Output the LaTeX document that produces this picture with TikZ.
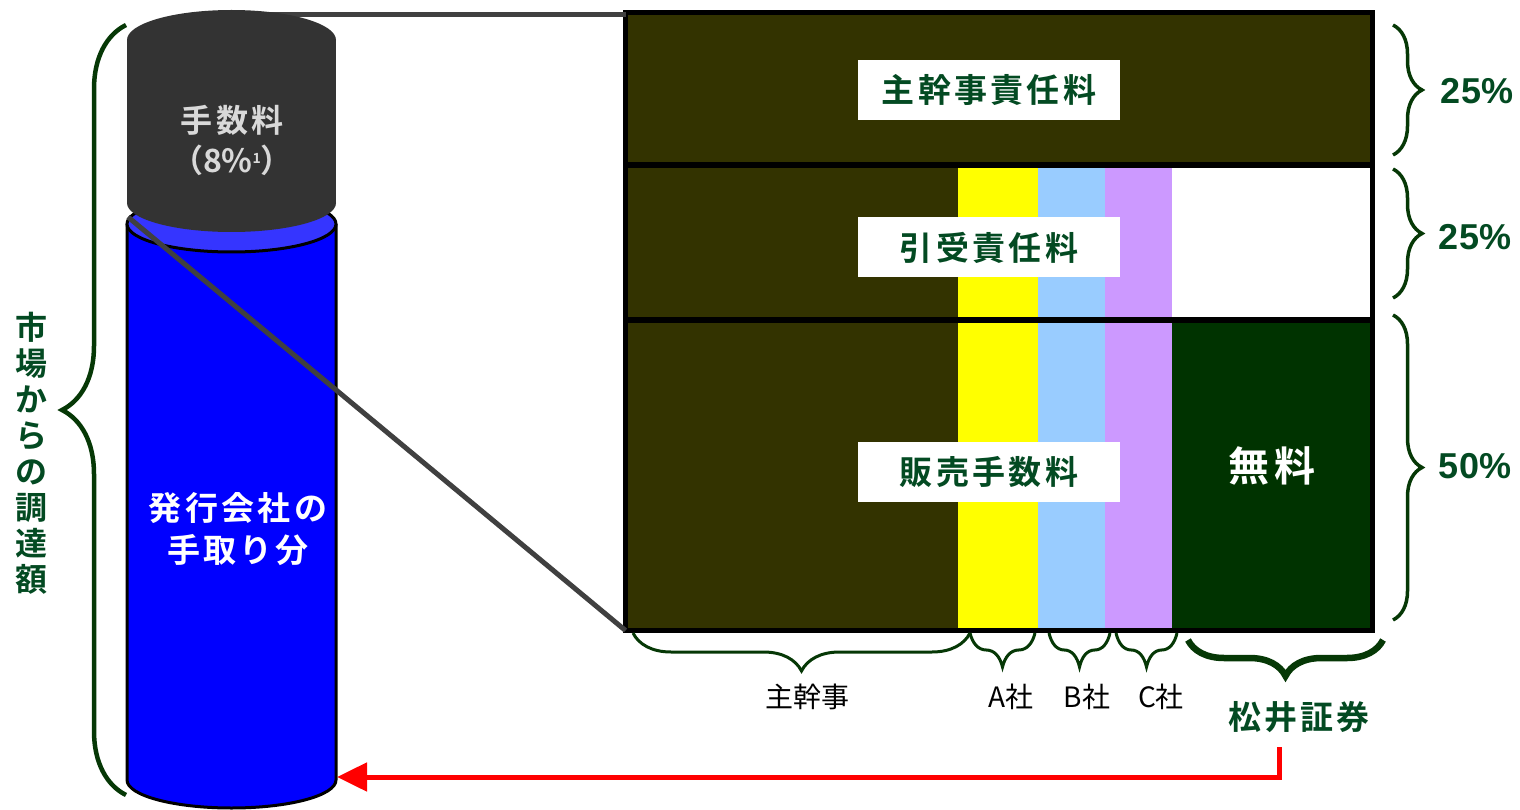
\documentclass[tikz,border=0pt]{standalone}
\usepackage{fontspec}
\usetikzlibrary{decorations.pathreplacing,arrows.meta}
\newfontfamily\jp{Noto Sans CJK JP}[BoldFont={Noto Sans CJK JP Bold}]
\newfontfamily\jpw{Noto Sans CJK JP}[BoldFont={Noto Sans CJK JP Bold},LetterSpace=10]
\newfontfamily\lat{Liberation Sans}
\definecolor{olive}{HTML}{333300}
\definecolor{yel}{HTML}{FFFF00}
\definecolor{lblue}{HTML}{99CCFF}
\definecolor{lav}{HTML}{CC99FF}
\definecolor{dgreen}{HTML}{003300}
\definecolor{brgreen}{HTML}{063806}
\definecolor{txtgreen}{HTML}{034A22}
\definecolor{capgray}{HTML}{333333}
\definecolor{captext}{HTML}{D9D9D9}
\definecolor{cylblue}{HTML}{0000FF}
\definecolor{topblue}{HTML}{3535FF}
\definecolor{conn}{HTML}{404040}
\definecolor{arrred}{HTML}{FF0000}
\tikzset{
  lbl/.style={fill=white, minimum width=262pt, minimum height=60pt, inner sep=0pt,
    text=txtgreen, font=\jpw\bfseries\fontsize{33}{33}\selectfont},
  pct/.style={text=txtgreen, inner sep=0pt, font=\lat\bfseries\fontsize{36}{36}\selectfont},
  co/.style={inner sep=0pt, font=\jp\fontsize{28}{28}\selectfont},
  brc/.style={draw=brgreen, line width=3.5pt, decorate,
    decoration={brace, amplitude=#1}},
  conline/.style={draw=conn, line width=5pt},
}
\begin{document}
\begin{tikzpicture}[x=1pt,y=-1pt]
\useasboundingbox (0,0) rectangle (1520,810);
% ---------- blue cylinder ----------
\fill[cylblue] (127,224) rectangle (336,780);
\fill[cylblue] (231.5,780) ellipse[x radius=104.5pt, y radius=28pt];
\draw[line width=3pt] (127,224) -- (127,780)
  arc[start angle=180, end angle=360, x radius=104.5pt, y radius=28pt] -- (336,224);
\filldraw[fill=topblue, line width=3pt] (231.5,224) ellipse[x radius=104.5pt, y radius=28pt];
\coordinate (capL) at (128,217);
\coordinate (capT) at (232,15);
\coordinate (cylR) at (337,777);
% ---------- panel ----------
\fill[olive] (625.5,12.5) rectangle (1372.5,165);
\fill[olive] (625.5,165) rectangle (958,630.5);
\fill[yel] (958,165) rectangle (1038,630.5);
\fill[lblue] (1038,165) rectangle (1105,630.5);
\fill[lav] (1105,165) rectangle (1172,630.5);
\fill[white] (1172,165) rectangle (1372.5,320);
\fill[dgreen] (1172,320) rectangle (1372.5,630.5);
\node[draw, line width=5pt, minimum width=747pt, minimum height=618pt, inner sep=0pt,
  outer sep=0pt, anchor=north west] (panel) at (625.5,12.5) {};
\draw[line width=5.5pt] (panel.west |- 0,165) -- (panel.east |- 0,165);
\draw[line width=5.5pt] (panel.west |- 0,320) -- (panel.east |- 0,320);
% ---------- connectors ----------
\draw[conline] (capL) -- (panel.south west);
\draw[conline] (capT) -- (capT -| panel.west);
% ---------- gray cap ----------
\fill[capgray] (127,40) rectangle (336,203);
\fill[capgray] (231.5,40) ellipse[x radius=104.5pt, y radius=30pt];
\fill[capgray] (231.5,203) ellipse[x radius=104.5pt, y radius=29pt];
\node[align=center, text=captext, inner sep=0pt, font=\jpw\bfseries\fontsize{32}{40}\selectfont]
  (fee) at (232,140) {手数料\\{\jp\bfseries （8\%{\fontsize{14}{14}\selectfont\raisebox{9pt}{1}}）}};
\node[align=center, text=white, inner sep=0pt, font=\jpw\bfseries\fontsize{33}{42}\selectfont]
  (net) at (238,529) {発行会社の\\手取り分};
% ---------- labels in panel ----------
\node[lbl] (l1) at (989,90) {主幹事責任料};
\node[lbl] (l2) at (989,247.5) {引受責任料};
\node[lbl] (l3) at (989,472) {販売手数料};
\node[text=white, inner sep=0pt, font=\jpw\bfseries\fontsize{41}{41}\selectfont]
  (free) at (1272,466) {無料};
% ---------- right braces ----------
\draw[brc=29pt] (1393,25) -- (1393,155);
\draw[brc=29pt] (1393,169) -- (1393,298);
\draw[brc=29pt] (1393,315) -- (1393,620);
\node[pct] (p1) at (1477,91) {25\%};
\node[pct] (p2) at (1475,237) {25\%};
\node[pct] (p3) at (1475,466) {50\%};
% ---------- left brace ----------
\draw[brc=64pt, line width=4.5pt] (126,795) -- (126,25);
\node[align=center, text=txtgreen, inner sep=0pt, font=\jp\bfseries\fontsize{32}{36}\selectfont]
  (market) at (32,453) {市\\場\\か\\ら\\の\\調\\達\\額};
% ---------- bottom braces ----------
\draw[brc=38pt, line width=3pt] (970,633) -- (633,633);
\draw[brc=34pt, line width=3pt] (1035,633) -- (970,633);
\draw[brc=34pt, line width=3pt] (1110,633) -- (1049,633);
\draw[brc=34pt, line width=3pt] (1177,633) -- (1116,633);
\draw[brc=36pt, line width=6.5pt] (1383,640) -- (1188,640);
\node[co] (lead) at (807,697) {主幹事};
\node[co] (ca) at (1011,697) {A社};
\node[co] (cb) at (1087,697) {B社};
\node[co] (cc) at (1161,697) {C社};
\node[inner sep=0pt, text=txtgreen, font=\jpw\bfseries\fontsize{33}{33}\selectfont]
  (matsui) at (1299,717) {松井証券};
% ---------- red arrow ----------
\coordinate (rs) at (1279,747);
\draw[arrred, line width=5pt, -{Triangle[length=30pt, width=28pt]}] (rs) |- (cylR);
\end{tikzpicture}
\end{document}
